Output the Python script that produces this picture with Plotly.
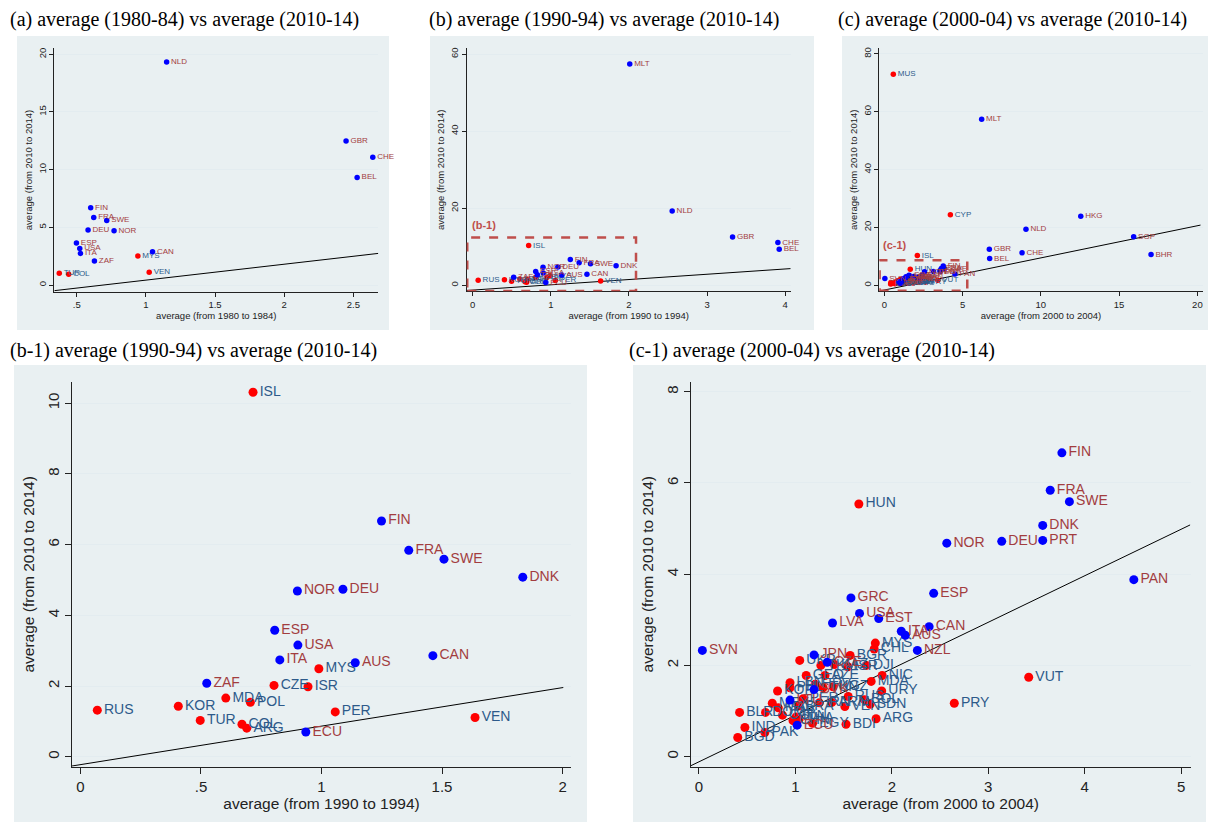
import plotly.graph_objects as go

W, H = 1210, 822

# ---------------- data ----------------
# Panel (a): average 1980-84 vs 2010-14
a_codes = ["NLD", "GBR", "CHE", "BEL", "FIN", "FRA", "SWE", "DEU", "NOR", "ESP",
           "USA", "ITA", "ZAF", "CAN", "MYS", "VEN", "TUR", "COL"]
a_x = [1.15, 2.447, 2.64, 2.527, 0.601, 0.623, 0.717, 0.582, 0.77, 0.498,
       0.522, 0.527, 0.628, 1.048, 0.942, 1.024, 0.374, 0.442]
a_y = [19.33, 12.49, 11.08, 9.32, 6.70, 5.86, 5.60, 4.76, 4.70, 3.64,
       3.17, 2.74, 2.08, 2.88, 2.51, 1.10, 1.01, 0.93]
a_grp = ["B", "B", "B", "B", "B", "B", "B", "B", "B", "B",
         "B", "B", "B", "B", "R", "R", "R", "R"]

# Panel (b) / (b-1): average 1990-94 vs 2010-14
b_codes = ["MLT", "NLD", "GBR", "CHE", "BEL", "ISL", "FIN", "FRA", "SWE", "DNK",
           "NOR", "DEU", "ESP", "USA", "ITA", "MYS", "AUS", "CAN", "ZAF", "CZE",
           "ISR", "MDA", "POL", "RUS", "KOR", "TUR", "COL", "ARG", "ECU", "PER", "VEN"]
b_x = [2.01, 2.553, 3.326, 3.906, 3.923, 0.716, 1.249, 1.362, 1.508, 1.835,
       0.90, 1.089, 0.806, 0.902, 0.827, 0.989, 1.14, 1.462, 0.524, 0.803,
       0.944, 0.603, 0.705, 0.07, 0.406, 0.497, 0.67, 0.69, 0.935, 1.057, 1.637]
b_y = [57.4, 19.3, 12.55, 11.08, 9.35, 10.31, 6.67, 5.84, 5.59, 5.08,
       4.69, 4.74, 3.58, 3.16, 2.74, 2.49, 2.66, 2.86, 2.08, 2.02,
       1.98, 1.66, 1.54, 1.32, 1.43, 1.03, 0.92, 0.81, 0.70, 1.27, 1.11]
b_grp = ["B", "B", "B", "B", "B", "R", "B", "B", "B", "B",
         "B", "B", "B", "B", "B", "R", "B", "B", "B", "R",
         "R", "R", "R", "R", "R", "R", "R", "R", "B", "R", "R"]

# Panel (c) / (c-1): average 2000-04 vs 2010-14
c_codes = ["MUS", "MLT", "CYP", "HKG", "NLD", "SGP", "GBR", "CHE", "BEL", "BHR", "ISL",
           "FIN", "FRA", "SWE", "DNK", "PRT", "DEU", "NOR", "PAN", "ESP", "GRC",
           "USA", "EST", "LVA", "CAN", "ITA", "AUS", "NZL", "SVN", "JPN", "CZE",
           "SVK", "LTU", "ECU",
           "HUN", "MYS", "CHL", "VUT", "PRY", "ARG", "BDI", "BGD", "IND", "PAK",
           "BLR", "UKR", "BGR", "TKM", "KAZ", "ISR", "DJI", "GEO", "AZE", "NIC",
           "MDA", "LBN", "PHL", "HRV", "TUN", "KGZ", "URY", "KOR", "RUS", "BOL",
           "PER", "MEX", "MAR", "DOM", "SDN", "VEN", "ARM", "IRN", "BRA", "COL",
           "CHN", "THA", "IDN", "EGY"]
c_x = [0.575, 6.22, 4.22, 12.55, 9.05, 15.93, 6.71, 8.8, 6.73, 17.04, 2.11,
       3.764, 3.643, 3.842, 3.565, 3.565, 3.14, 2.57, 4.51, 2.434, 1.576,
       1.665, 1.864, 1.385, 2.387, 2.098, 2.14, 2.265, 0.035, 1.193, 1.33,
       1.193, 0.944, 1.018,
       1.658, 1.829, 1.817, 3.42, 2.648, 1.837, 1.525, 0.402, 0.476, 0.683,
       0.421, 1.045, 1.568, 1.264, 1.404, 1.544, 1.736, 1.112, 1.307, 1.90,
       1.786, 0.944, 0.944, 1.205, 1.287, 1.39, 1.895, 0.815, 1.548, 1.716,
       1.08, 0.76, 0.823, 0.69, 1.775, 1.513, 1.378, 1.248, 1.03, 0.866,
       0.975, 1.04, 1.007, 1.178]
c_y = [72.96, 57.37, 24.36, 23.9, 19.4, 16.74, 12.47, 11.2, 9.24, 10.62, 10.27,
       6.66, 5.84, 5.59, 5.07, 4.74, 4.72, 4.68, 3.88, 3.58, 3.48,
       3.14, 3.03, 2.93, 2.85, 2.75, 2.66, 2.33, 2.33, 2.23, 2.07,
       1.47, 1.24, 0.69,
       5.54, 2.49, 2.36, 1.74, 1.17, 0.83, 0.71, 0.42, 0.64, 0.53,
       0.97, 2.11, 2.22, 2.0, 2.02, 1.97, 2.0, 1.78, 1.78, 1.78,
       1.65, 1.62, 1.51, 1.59, 1.51, 1.53, 1.44, 1.44, 1.32, 1.25,
       1.27, 1.17, 1.07, 0.97, 1.15, 1.10, 1.19, 1.18, 1.11, 0.91,
       0.79, 0.83, 0.87, 0.73]
c_grp = ["R", "B", "R", "B", "B", "B", "B", "B", "B", "B", "R",
         "B", "B", "B", "B", "B", "B", "B", "B", "B", "B",
         "B", "B", "B", "B", "B", "B", "B", "B", "B", "B",
         "B", "B", "B"] + ["R"] * 44

# reference lines (end points)
line_a_x, line_a_y = [0.338, 2.68], [-0.49, 2.74]
line_b_x, line_b_y = [-0.077, 4.07], [-1.35, 4.33]
line_c_x, line_c_y = [-0.32, 20.2], [-2.0, 20.8]
line_b1_x, line_b1_y = [-0.035, 2.003], [-0.26, 1.96]
line_c1_x, line_c1_y = [-0.086, 5.094], [-0.2, 5.08]

# zoom boxes drawn in panels (b) and (c)
box_b1_x, box_b1_y = [-0.07, 2.09], [-1.45, 12.4]
box_c1_x, box_c1_y = [-0.3, 5.3], [-1.9, 8.66]

# ticks
a_xt, a_xl = [0.5, 1, 1.5, 2, 2.5], [".5", "1", "1.5", "2", "2.5"]
a_yt, a_yl = [0, 5, 10, 15, 20], ["0", "5", "10", "15", "20"]
b_xt, b_xl = [0, 1, 2, 3, 4], ["0", "1", "2", "3", "4"]
b_yt, b_yl = [0, 20, 40, 60], ["0", "20", "40", "60"]
c_xt, c_xl = [0, 5, 10, 15, 20], ["0", "5", "10", "15", "20"]
c_yt, c_yl = [0, 20, 40, 60, 80], ["0", "20", "40", "60", "80"]
b1_xt, b1_xl = [0, 0.5, 1, 1.5, 2], ["0", ".5", "1", "1.5", "2"]
b1_yt, b1_yl = [0, 2, 4, 6, 8, 10], ["0", "2", "4", "6", "8", "10"]
c1_xt, c1_xl = [0, 1, 2, 3, 4, 5], ["0", "1", "2", "3", "4", "5"]
c1_yt, c1_yl = [0, 2, 4, 6, 8], ["0", "2", "4", "6", "8"]

titles = ["(a) average (1980-84) vs average (2010-14)",
          "(b) average (1990-94) vs average (2010-14)",
          "(c) average (2000-04) vs average (2010-14)",
          "(b-1) average (1990-94) vs average (2010-14)",
          "(c-1) average (2000-04) vs average (2010-14)"]
xtitles = ["average (from 1980 to 1984)", "average (from 1990 to 1994)",
           "average (from 2000 to 2004)", "average (from 1990 to 1994)",
           "average (from 2000 to 2004)"]
ytitle = "average (from 2010 to 2014)"

# ---------------- style ----------------
DOT = {"B": "#0000ff", "R": "#ff0000"}
LAB = {"B": "#a23d3f", "R": "#2d5a8a"}
PANEL_BG = "#e9f0f2"
GRID = "#e3ecf0"
BOX = "#bf4e4b"
SANS = "Liberation Sans Narrow, Arial Narrow, Liberation Sans, Arial, sans-serif"
SERIF = "Liberation Serif, Times New Roman, serif"


def fx(px):
    return px / W


def fy(py):
    return 1 - py / H


# plot area rectangles in pixels: (left, right, top, bottom)
areas = [(54.3, 378.3, 48.3, 291.7),
         (466.7, 790.7, 48.3, 291.3),
         (879.3, 1202.7, 48.3, 291.3),
         (72.0, 571.0, 382.0, 766.7),
         (690.7, 1190.7, 381.7, 766.7)]
panels_bg = [(17, 389, 36, 330), (430, 814, 36, 330), (842, 1208, 36, 330),
             (14, 587, 365, 822), (633, 1206, 365, 822)]
ranges = [([0.338, 2.68], [-0.58, 20.52]),
          ([-0.077, 4.07], [-1.56, 61.5]),
          ([-0.32, 20.34], [-2.08, 81.9]),
          ([-0.035, 2.035], [-0.28, 10.6]),
          ([-0.086, 5.10], [-0.22, 8.22])]
ticks = [(a_xt, a_xl, a_yt, a_yl), (b_xt, b_xl, b_yt, b_yl), (c_xt, c_xl, c_yt, c_yl),
         (b1_xt, b1_xl, b1_yt, b1_yl), (c1_xt, c1_xl, c1_yt, c1_yl)]
small = [True, True, True, False, False]
datasets = [(a_codes, a_x, a_y, a_grp), (b_codes, b_x, b_y, b_grp),
            (c_codes, c_x, c_y, c_grp), (b_codes, b_x, b_y, b_grp),
            (c_codes, c_x, c_y, c_grp)]
lines = [(line_a_x, line_a_y), (line_b_x, line_b_y), (line_c_x, line_c_y),
         (line_b1_x, line_b1_y), (line_c1_x, line_c1_y)]

fig = go.Figure()
layout = dict(width=W, height=H, margin=dict(l=0, r=0, t=0, b=0),
              paper_bgcolor="white", plot_bgcolor="white", showlegend=False)
shapes = []
annotations = []

for i in range(5):
    n = "" if i == 0 else str(i + 1)
    xa, ya = "x" + n, "y" + n
    codes, xs, ys, grp = datasets[i]
    xr, yr = ranges[i]
    sm = small[i]
    msize = 5.5 if sm else 9
    tsize = 8 if sm else 14
    ticksize = 9.5 if sm else 15
    titlesize = 9.5 if sm else 15.5

    lx, ly = lines[i]
    fig.add_trace(go.Scatter(x=lx, y=ly, mode="lines", xaxis=xa, yaxis=ya,
                             line=dict(color="black", width=1), hoverinfo="skip",
                             cliponaxis=True))
    for g in ["R", "B"]:
        # only the points lying inside this panel's axis window
        idx = [k for k in range(len(codes)) if grp[k] == g
               and xr[0] <= xs[k] <= xr[1] and yr[0] <= ys[k] <= yr[1]]
        fig.add_trace(go.Scatter(
            x=[xs[k] for k in idx], y=[ys[k] for k in idx],
            text=[codes[k] for k in idx], mode="markers+text",
            textposition="middle right", xaxis=xa, yaxis=ya,
            marker=dict(color=DOT[g], size=msize, line=dict(width=0)),
            textfont=dict(color=LAB[g], size=tsize, family=SANS),
            cliponaxis=False))

    l, r, t, b = areas[i]
    xt, xl, yt, yl = ticks[i]
    layout["xaxis" + n] = dict(
        domain=[fx(l), fx(r)], range=xr, anchor=ya, tickvals=xt, ticktext=xl,
        showgrid=False, zeroline=False, showline=True, linecolor="#222", linewidth=1,
        ticks="outside", ticklen=4 if sm else 6, tickcolor="#222",
        tickfont=dict(size=ticksize, family=SANS, color="#222"),
        title=dict(text=xtitles[i], font=dict(size=titlesize, family=SANS, color="#222"),
                   standoff=0 if sm else 2))
    layout["yaxis" + n] = dict(
        domain=[fy(b), fy(t)], range=yr, anchor=xa, tickvals=yt, ticktext=yl,
        showgrid=True, gridcolor=GRID, gridwidth=1, zeroline=False,
        showline=True, linecolor="#222", linewidth=1,
        ticks="outside", ticklen=4 if sm else 6, tickcolor="#222", tickangle=-90,
        tickfont=dict(size=ticksize, family=SANS, color="#222"),
        title=dict(text=ytitle, font=dict(size=titlesize, family=SANS, color="#222"),
                   standoff=2 if sm else 6))

    bl, br, bt, bb = panels_bg[i]
    shapes.append(dict(type="rect", xref="paper", yref="paper", layer="below",
                       x0=fx(bl), x1=fx(br), y0=fy(bb), y1=fy(bt),
                       fillcolor=PANEL_BG, line=dict(width=0)))

# zoom boxes
shapes.append(dict(type="rect", xref="x2", yref="y2", x0=box_b1_x[0], x1=box_b1_x[1],
                   y0=box_b1_y[0], y1=box_b1_y[1],
                   line=dict(color=BOX, width=2.5, dash="dash")))
shapes.append(dict(type="rect", xref="x3", yref="y3", x0=box_c1_x[0], x1=box_c1_x[1],
                   y0=box_c1_y[0], y1=box_c1_y[1],
                   line=dict(color=BOX, width=2.5, dash="dash")))
annotations.append(dict(xref="x2", yref="y2", x=box_b1_x[0] + 0.04, y=box_b1_y[1] + 1.2,
                        text="<b>(b-1)</b>", showarrow=False, xanchor="left", yanchor="bottom",
                        font=dict(size=11, color=BOX, family=SANS)))
annotations.append(dict(xref="x3", yref="y3", x=box_c1_x[0] + 0.1, y=box_c1_y[1] + 2.5,
                        text="<b>(c-1)</b>", showarrow=False, xanchor="left", yanchor="bottom",
                        font=dict(size=11, color=BOX, family=SANS)))

title_pos = [(8, 20), (427, 20), (836, 20), (8, 350), (627, 350)]
for (px, py), ttl in zip(title_pos, titles):
    annotations.append(dict(xref="paper", yref="paper", x=fx(px), y=fy(py), text=ttl,
                            showarrow=False, xanchor="left", yanchor="middle",
                            font=dict(size=20, color="black", family=SERIF)))

layout["shapes"] = shapes
layout["annotations"] = annotations
fig.update_layout(**layout)
fig.write_html("out.html")
